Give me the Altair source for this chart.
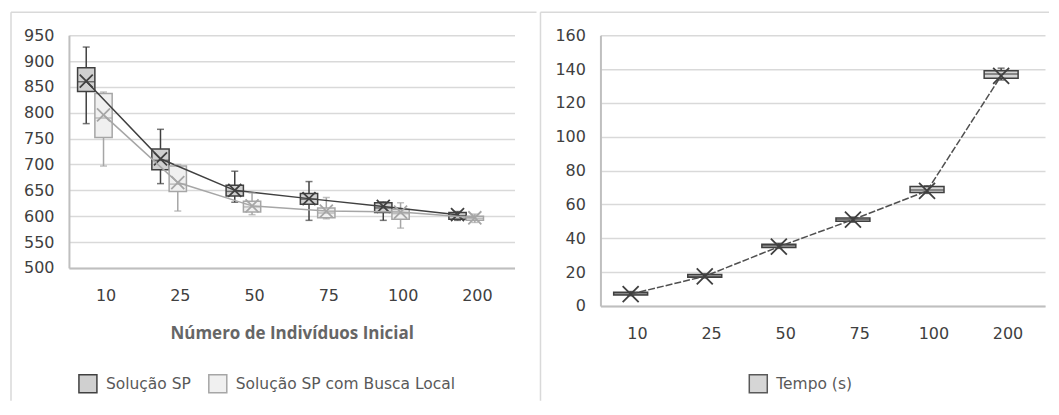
import altair as alt
import pandas as pd

categories = ["10", "25", "50", "75", "100", "200"]
series_names = ["Solução SP", "Solução SP com Busca Local"]

# Solução SP
sp_min = [779, 663, 627, 592, 592, 592]
sp_q1 = [841, 690, 639, 623, 607, 594]
sp_median = [860, 708, 648, 633, 616, 601]
sp_q3 = [887, 730, 660, 644, 626, 607]
sp_max = [927, 768, 687, 667, 628, 609]
sp_mean = [861, 711, 650, 634, 619, 603]

# Solução SP com Busca Local
slp_min = [697, 610, 603, 595, 577, 588]
slp_q1 = [752, 648, 608, 597, 594, 592]
slp_median = [790, 662, 618, 606, 605, 596]
slp_q3 = [837, 697, 629, 616, 613, 600]
slp_max = [840, 700, 645, 636, 626, 604]
slp_mean = [796, 665, 620, 610, 608, 597]

# Tempo (s)
tempo_name = "Tempo (s)"
tempo_min = [6, 16.5, 34, 49.5, 66.5, 133.5]
tempo_q1 = [6.5, 17, 34.5, 50, 67, 134.5]
tempo_median = [7, 17.5, 35.5, 51, 68.5, 137]
tempo_q3 = [8, 18.5, 36.5, 52, 70.5, 139]
tempo_max = [8.5, 19, 37, 52.5, 71, 140.5]
tempo_mean = [7, 17.5, 35, 51, 68, 136]

y_left_ticks = list(range(500, 951, 50))
y_right_ticks = list(range(0, 161, 20))

series_fill = ["#d0d0d0", "#f0f0f0"]
series_stroke = ["#404040", "#a6a6a6"]


def build(name, mins, q1s, meds, q3s, maxs, means):
    return [
        dict(cat=c, serie=name, vmin=mins[i], q1=q1s[i], med=meds[i],
             q3=q3s[i], vmax=maxs[i], mean=means[i])
        for i, c in enumerate(categories)
    ]


left_df = pd.DataFrame(
    build(series_names[0], sp_min, sp_q1, sp_median, sp_q3, sp_max, sp_mean)
    + build(series_names[1], slp_min, slp_q1, slp_median, slp_q3, slp_max, slp_mean)
)
right_df = pd.DataFrame(
    build(tempo_name, tempo_min, tempo_q1, tempo_median, tempo_q3, tempo_max, tempo_mean)
)
frame_df = pd.DataFrame({"k": [0]})

LABEL_FONT = "DejaVu Sans"
GRID = "#d9d9d9"
AXIS_LINE = "#bfbfbf"
FRAME = "#d9d9d9"
X_MARK = "M-1,-1L1,1M-1,1L1,-1"


def legend_for(x, y, stroke=None):
    kw = dict(orient="none", legendX=x, legendY=y, direction="horizontal",
              title=None, symbolType="square", symbolSize=324,
              symbolStrokeWidth=1.5, labelFont=LABEL_FONT, labelFontSize=15.5,
              labelColor="#595959", columnPadding=14, labelOffset=8,
              padding=0, labelLimit=400)
    if stroke:
        kw["symbolStrokeColor"] = stroke
    return alt.Legend(**kw)


def x_axis(title):
    kw = dict(labelAngle=0, ticks=False, domainColor=AXIS_LINE, domainWidth=2,
              labelPadding=20, labelFont=LABEL_FONT, labelFontSize=16,
              labelColor="#404040", grid=False)
    if title:
        kw.update(title=title, titleFont="Open Sans", titleFontWeight="bold",
                  titleFontSize=17, titleColor="#666666", titlePadding=22)
    else:
        kw.update(title=None)
    return alt.Axis(**kw)


def y_axis(ticks):
    return alt.Axis(values=ticks, grid=True, gridColor=GRID, gridWidth=1.5,
                    domain=True, domainColor=AXIS_LINE, domainWidth=2,
                    ticks=False, labelPadding=15, labelFont=LABEL_FONT,
                    labelFontSize=16, labelColor="#404040", title=None)


def x_enc(title):
    return alt.X("cat:N", sort=categories,
                 scale=alt.Scale(domain=categories, paddingInner=0, paddingOuter=0),
                 axis=x_axis(title))


# ---------------- left panel ----------------
W1, H1 = 446, 233
y1s = alt.Scale(domain=[500, 950], nice=False, zero=False)
y1a = y_axis(y_left_ticks)


def Y1(f):
    return alt.Y(f, scale=y1s, axis=y1a, title=None)


leg1 = legend_for(9, 339)

base1 = alt.Chart(left_df).encode(
    x=x_enc("Número de Indivíduos Inicial"),
    xOffset=alt.XOffset("serie:N", scale=alt.Scale(
        domain=series_names + ["_"], paddingInner=0, paddingOuter=0.647, align=0.386)),
)

l_box = base1.mark_bar(strokeWidth=1.5).encode(
    y=Y1("q1:Q"), y2="q3:Q",
    fill=alt.Fill("serie:N", scale=alt.Scale(domain=series_names, range=series_fill),
                  legend=leg1),
    stroke=alt.Stroke("serie:N", scale=alt.Scale(domain=series_names, range=series_stroke),
                      legend=leg1),
)

under_layers = []
over_layers = []
for name, col in zip(series_names, series_stroke):
    b = base1.transform_filter(alt.datum.serie == name)
    under_layers.append(
        b.mark_rule(strokeWidth=1.5, color=col).encode(y=Y1("vmin:Q"), y2="vmax:Q"))
    over_layers += [
        b.mark_tick(thickness=1.5, size=17, color=col).encode(y=Y1("med:Q")),
        b.mark_tick(thickness=1.5, size=7, color=col).encode(y=Y1("vmin:Q")),
        b.mark_tick(thickness=1.5, size=7, color=col).encode(y=Y1("vmax:Q")),
        b.mark_line(strokeWidth=1.5, color=col).encode(y=Y1("mean:Q")),
        b.mark_point(shape=X_MARK, size=170, strokeWidth=1.8, filled=False,
                     opacity=1, color=col).encode(y=Y1("mean:Q")),
    ]

fb = alt.Chart(frame_df)
l_top = fb.mark_rule(color=FRAME, strokeWidth=1.5).encode(
    x=alt.value(-58), x2=alt.value(W1 + 22), y=alt.value(-23))
l_side = fb.mark_rule(color=FRAME, strokeWidth=1.5).encode(
    x=alt.value(-58), y=alt.value(-23), y2=alt.value(H1 + 133))

left = alt.layer(l_top, l_side, *under_layers, l_box, *over_layers).properties(
    width=W1, height=H1)

# ---------------- right panel ----------------
W2, H2 = 445, 271
y2s = alt.Scale(domain=[0, 160], nice=False, zero=False)
y2a = y_axis(y_right_ticks)


def Y2(f):
    return alt.Y(f, scale=y2s, axis=y2a, title=None)


DARK = "#404040"
leg2 = legend_for(680, 339, "#595959")
base2 = alt.Chart(right_df).encode(
    x=x_enc(None),
    xOffset=alt.XOffset("serie:N", scale=alt.Scale(
        domain=[tempo_name], paddingInner=0, paddingOuter=0.591, align=0.33)),
)
r_whisker = base2.mark_rule(strokeWidth=1.5, color=DARK).encode(y=Y2("vmin:Q"), y2="vmax:Q")
r_box = base2.mark_bar(strokeWidth=1.5, stroke=DARK).encode(
    y=Y2("q1:Q"), y2="q3:Q",
    color=alt.Color("serie:N", scale=alt.Scale(domain=[tempo_name], range=["#d6d6d6"]),
                    legend=leg2),
)
r_med = base2.mark_tick(thickness=1.5, size=34, color=DARK).encode(y=Y2("med:Q"))
r_cap1 = base2.mark_tick(thickness=1.5, size=7, color=DARK).encode(y=Y2("vmin:Q"))
r_cap2 = base2.mark_tick(thickness=1.5, size=7, color=DARK).encode(y=Y2("vmax:Q"))
r_line = base2.mark_line(strokeWidth=1.5, color="#505050", strokeDash=[7, 2]).encode(
    y=Y2("mean:Q"))
r_pt = base2.mark_point(shape=X_MARK, size=256, strokeWidth=1.8, filled=False,
                        opacity=1, color=DARK).encode(y=Y2("mean:Q"))

r_top = fb.mark_rule(color=FRAME, strokeWidth=1.5).encode(
    x=alt.value(-60), x2=alt.value(W2 + 4), y=alt.value(-23))
r_side = fb.mark_rule(color=FRAME, strokeWidth=1.5).encode(
    x=alt.value(-60), y=alt.value(-23), y2=alt.value(H2 + 95))

right = alt.layer(r_top, r_side, r_whisker, r_box, r_med, r_cap1, r_cap2,
                  r_line, r_pt).properties(width=W2, height=H2)

chart = alt.hconcat(left, right, spacing=0).properties(
    padding={"left": 1, "top": 2, "right": 0, "bottom": 0}
).configure_view(stroke="transparent").resolve_scale(xOffset="independent")

chart.save("out.html", embed_options={"renderer": "svg", "actions": False})
